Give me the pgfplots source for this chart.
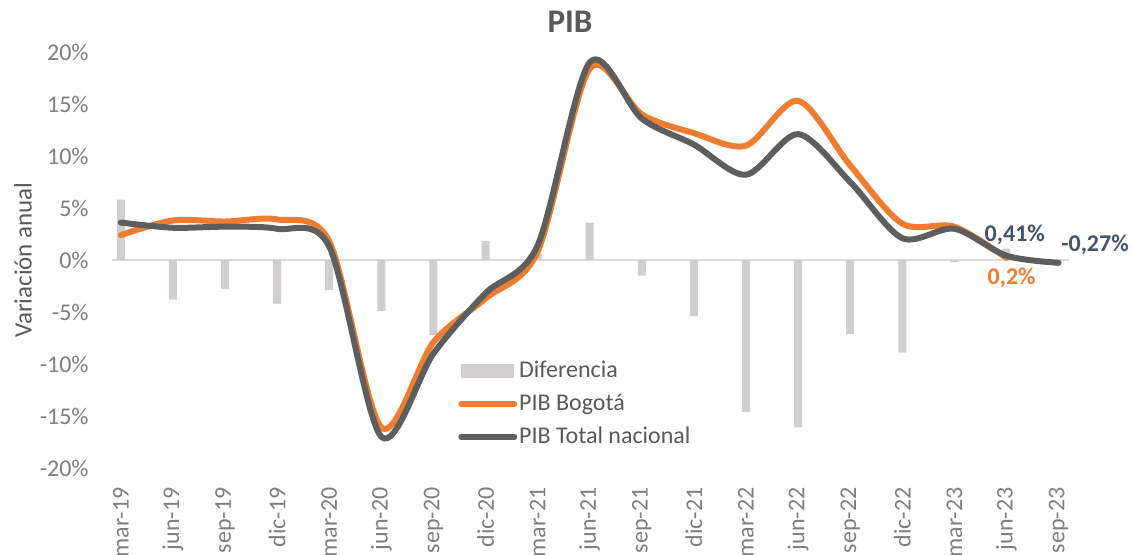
\documentclass[border=0pt]{standalone}
\usepackage{fontspec}
\setmainfont{Carlito}
\usepackage{pgfplots}
\pgfplotsset{compat=1.18}
\definecolor{pibor}{HTML}{ED7D31}
\definecolor{pibgr}{HTML}{5E5E5E}
\definecolor{bargr}{HTML}{D0CECE}
\definecolor{txtgr}{HTML}{595959}
\definecolor{tickgr}{HTML}{7F7F7F}
\definecolor{lblbl}{HTML}{44546A}
\definecolor{zerol}{HTML}{D9D9D9}
\begin{document}
\begin{tikzpicture}
\begin{axis}[
  name=ax,
  scale only axis, width=478.5pt, height=208pt,
  xmin=-0.17, xmax=18.2, ymin=-20, ymax=20,
  xtick={0,...,18},
  xticklabels={mar-19,jun-19,sep-19,dic-19,mar-20,jun-20,sep-20,dic-20,mar-21,jun-21,sep-21,dic-21,mar-22,jun-22,sep-22,dic-22,mar-23,jun-23,sep-23},
  ytick={-20,-15,...,20},
  yticklabels={-20\%,-15\%,-10\%,-5\%,0\%,5\%,10\%,15\%,20\%},
  axis line style={draw=none},
  major tick length=0pt,
  tick label style={font=\fontsize{12}{14}\selectfont, text=tickgr},
  xticklabel style={rotate=90, anchor=east, inner sep=0pt},
  xticklabel shift=9.5pt,
  yticklabel style={anchor=east, inner sep=0pt},
  yticklabel shift=11.5pt,
  clip=false,
  legend style={at={(axis description cs:0.3615,0.262)}, anchor=north west, draw=none, fill=none,
    font=\fontsize{12}{14}\selectfont, text=txtgr, row sep=5pt, inner sep=0pt, nodes={inner sep=0.9pt}},
  legend cell align=left,
]
\draw[zerol, line width=1pt] (axis cs:-0.17,0) -- (axis cs:18.2,0);
\addplot[ybar, bar width=4pt, fill=bargr, draw=none,
  legend image code/.code={\fill[bargr] (0pt,-3.5pt) rectangle (26.5pt,3.5pt);}]
  coordinates {(0,5.8) (1,-3.8) (2,-2.8) (3,-4.2) (4,-2.9) (5,-4.9) (6,-7.2) (7,1.85) (8,0.7) (9,3.6) (10,-1.5) (11,-5.4) (12,-14.6) (13,-16.1) (14,-7.1) (15,-8.9) (16,-0.2) (17,1.1)};
\addlegendentry{Diferencia}
\addplot[pibor, line width=3pt, smooth, line cap=round, line join=round,
  legend image code/.code={\draw[pibor, line width=3pt, line cap=round] (0pt,0pt) -- (26.5pt,0pt);}]
  coordinates {(0,2.4) (1,3.8) (2,3.7) (3,3.9) (4,1.8) (5,-16.1) (6,-7.9) (7,-3.7) (8,0.8) (9,18.4) (10,14.0) (11,12.2) (12,11.0) (13,15.3) (14,9.1) (15,3.5) (16,3.2) (17,0.2)};
\addlegendentry{PIB Bogotá}
\addplot[pibgr, line width=3pt, smooth, line cap=round, line join=round,
  legend image code/.code={\draw[pibgr, line width=3pt, line cap=round] (0pt,0pt) -- (26.5pt,0pt);}]
  coordinates {(0,3.6) (1,3.1) (2,3.2) (3,3.0) (4,1.3) (5,-17.0) (6,-9.0) (7,-3.2) (8,1.4) (9,19.0) (10,13.6) (11,11.1) (12,8.2) (13,12.1) (14,7.5) (15,2.1) (16,3.0) (17,0.41) (18,-0.27)};
\addlegendentry{PIB Total nacional}
\node[font=\bfseries\fontsize{12}{14}\selectfont, text=lblbl] at (axis cs:17.16,2.4) {0,41\%};
\node[font=\bfseries\fontsize{12}{14}\selectfont, text=lblbl] at (axis cs:18.7,1.45) {-0,27\%};
\node[font=\bfseries\fontsize{12}{14}\selectfont, text=pibor] at (axis cs:17.1,-1.73) {0,2\%};
\node[font=\bfseries\fontsize{16.5}{20}\selectfont, text=txtgr] at (axis description cs:0.4786,1.072) {PIB};
\node[rotate=90, font=\fontsize{12.5}{14}\selectfont, text=txtgr] at (axis description cs:-0.093,0.5) {Variación anual};
\end{axis}
\pgfresetboundingbox
\path ([xshift=-56pt,yshift=-43.5pt]ax.south west) rectangle ([xshift=31.5pt,yshift=26pt]ax.north east);
\end{tikzpicture}
\end{document}
